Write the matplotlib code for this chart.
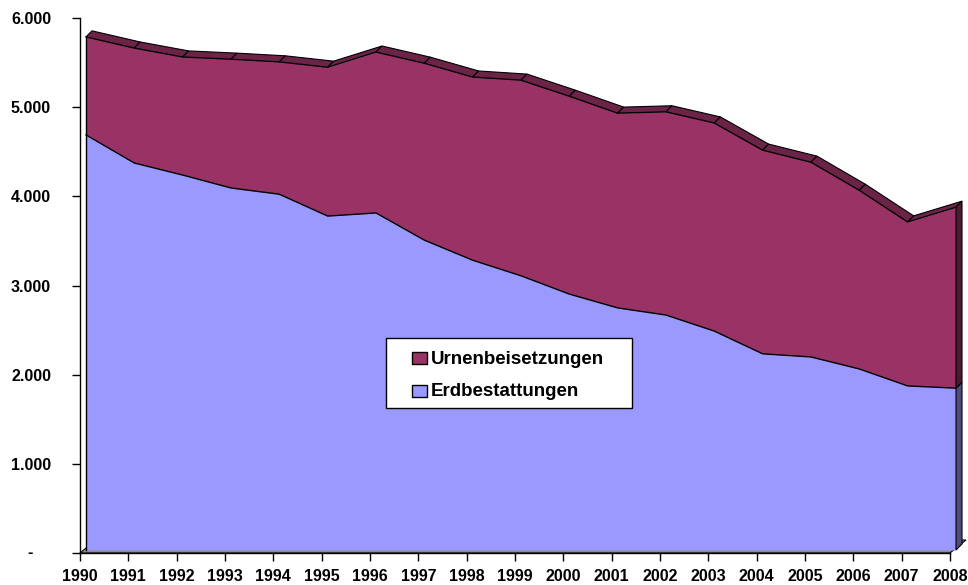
import matplotlib
matplotlib.use('Agg')
import matplotlib.pyplot as plt
import numpy as np
from matplotlib.patches import Polygon, Rectangle

# ---------------- data ----------------
years = list(range(1990, 2009))
erdbestattungen = [4655, 4340, 4205, 4060, 3990, 3745, 3780, 3475, 3250, 3075,
                   2870, 2715, 2635, 2455, 2200, 2165, 2030, 1840, 1815]
urnenbeisetzungen = [1100, 1290, 1325, 1445, 1485, 1670, 1805, 1985, 2055, 2195,
                     2220, 2185, 2280, 2335, 2285, 2185, 2005, 1840, 2030]
series_names = ['Urnenbeisetzungen', 'Erdbestattungen']
y_ticks = [0, 1000, 2000, 3000, 4000, 5000, 6000]
y_tick_labels = ['', '1.000', '2.000', '3.000', '4.000', '5.000', '6.000']
zero_label = '-'

# ---------------- style ----------------
c_erd = '#9999FF'
c_urn = '#993366'
c_urn_top = '#6B2347'
c_urn_side = '#4C1A33'
c_erd_side = '#4D4D80'
c_floor = '#8C8C8C'

plt.rcParams['font.family'] = ['Liberation Sans', 'DejaVu Sans']
plt.rcParams['font.weight'] = 'bold'

W, H = 968, 585
fig = plt.figure(figsize=(W / 100, H / 100), dpi=100)
ax = fig.add_axes([80 / W, 32 / H, 870 / W, 535 / H])
ax.set_xlim(years[0], years[-1])
ax.set_ylim(0, 6000)

x = np.array(years, float)
erd = np.array(erdbestattungen, float)
urn = np.array(urnenbeisetzungen, float)
tot = erd + urn

# pixel -> data units
px_x = (years[-1] - years[0]) / 870.0
px_y = 6000.0 / 535.0
fx, fy = 6 * px_x, 3 * px_y      # front face offset
dx, dy = 6 * px_x, 6 * px_y      # series depth

# floor
floor = Polygon([(x[0], 0), (x[-1], 0), (x[-1] + 16 * px_x, 13 * px_y),
                 (x[0] + 16 * px_x, 13 * px_y)], closed=True,
                facecolor=c_floor, edgecolor='black', lw=0.8, clip_on=False, zorder=1)
ax.add_patch(floor)

# front faces
ax.fill_between(x + fx, fy, erd + fy, color=c_erd, lw=0, zorder=2, clip_on=False)
ax.fill_between(x + fx, erd + fy, tot + fy, color=c_urn, lw=0, zorder=2, clip_on=False)
ax.plot(x + fx, erd + fy, color='black', lw=1, zorder=3, clip_on=False)
ax.plot(x + fx, tot + fy, color='black', lw=1, zorder=3, clip_on=False)
ax.plot([x[0] + fx, x[0] + fx], [fy, tot[0] + fy], color='black', lw=1, zorder=3, clip_on=False)

# top strip of Urnenbeisetzungen
for i in range(len(x) - 1):
    quad = [(x[i] + fx, tot[i] + fy), (x[i + 1] + fx, tot[i + 1] + fy),
            (x[i + 1] + fx + dx, tot[i + 1] + fy + dy), (x[i] + fx + dx, tot[i] + fy + dy)]
    ax.add_patch(Polygon(quad, closed=True, facecolor=c_urn_top, edgecolor='black',
                         lw=0.8, clip_on=False, zorder=4))

# right side faces
xe = x[-1] + fx
side_erd = [(xe, fy), (xe, erd[-1] + fy), (xe + dx, erd[-1] + fy + dy), (xe + dx, fy + dy)]
side_urn = [(xe, erd[-1] + fy), (xe, tot[-1] + fy), (xe + dx, tot[-1] + fy + dy),
            (xe + dx, erd[-1] + fy + dy)]
ax.add_patch(Polygon(side_erd, closed=True, facecolor=c_erd_side, edgecolor='black',
                     lw=0.8, clip_on=False, zorder=4))
ax.add_patch(Polygon(side_urn, closed=True, facecolor=c_urn_side, edgecolor='black',
                     lw=0.8, clip_on=False, zorder=4))

# axes
for s in ['top', 'right']:
    ax.spines[s].set_visible(False)
for s in ['left', 'bottom']:
    ax.spines[s].set_linewidth(1)
    ax.spines[s].set_zorder(5)
ax.set_xticks(years)
ax.set_xticklabels([str(y) for y in years])
ax.set_yticks(y_ticks)
ax.set_yticklabels(y_tick_labels)
ax.tick_params(axis='both', direction='out', length=5.8, width=1, labelsize=11.5)
ax.tick_params(axis='y', pad=15)
ax.tick_params(axis='x', pad=6)
ax.text(x[0] - 50 * px_x, 0, zero_label, ha='center', va='center', fontsize=11.5,
        fontweight='bold', clip_on=False)

# legend (manual, Excel-like box)
fig.add_artist(Rectangle((386 / W, 1 - 408 / H), 246 / W, 70 / H, transform=fig.transFigure,
                         facecolor='white', edgecolor='black', lw=1, zorder=10))
for name, col, base in [(series_names[0], c_urn, 363.5), (series_names[1], c_erd, 396.5)]:
    fig.add_artist(Rectangle((412 / W, 1 - base / H), 15 / W, 11.5 / H,
                             transform=fig.transFigure, facecolor=col, edgecolor='black',
                             lw=1, zorder=11))
    fig.text(431 / W, 1 - base / H, name, ha='left', va='baseline', fontsize=13.5,
             fontweight='bold', zorder=12)

fig.savefig('out.png', dpi=100)
